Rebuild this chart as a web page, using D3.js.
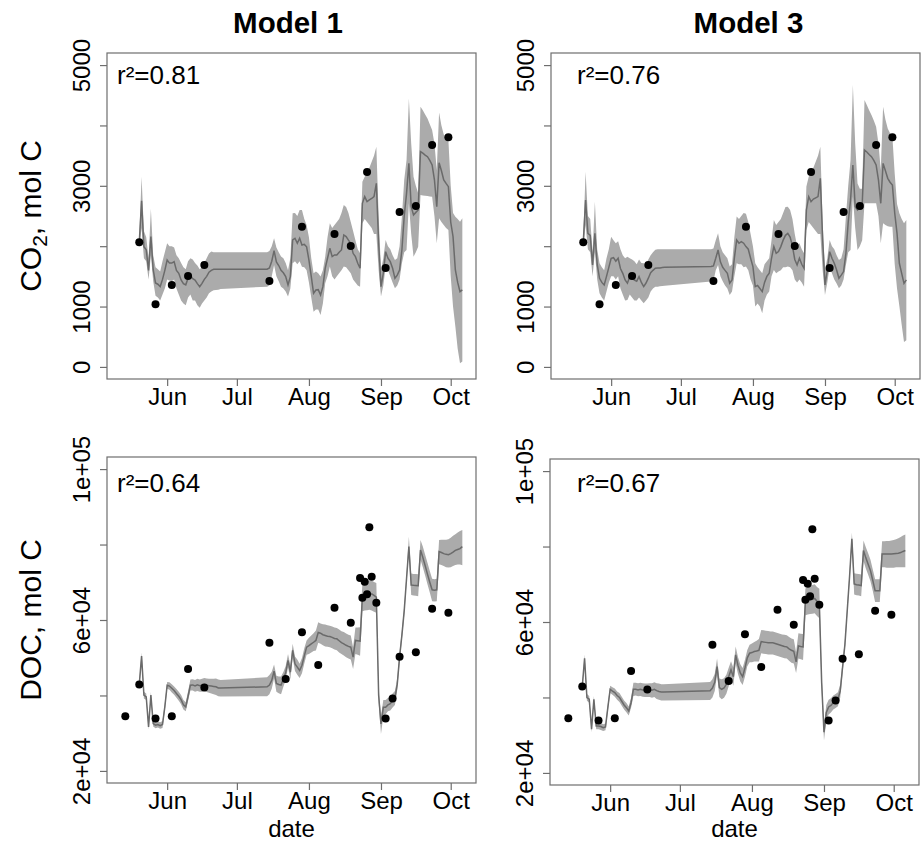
<!DOCTYPE html>
<html>
<head>
<meta charset="utf-8">
<script src="https://cdn.jsdelivr.net/npm/d3@7"></script>
<style>
  body { margin: 0; background: #fff; }
  svg text { font-family: "Liberation Sans", Arial, sans-serif; fill: #000; }
</style>
</head>
<body>
<svg id="chart" width="922" height="843"></svg>
<script>
// ---- data (month-day, year 2015) ----
const modelDates = [
  '05-20','05-21','05-22','05-23','05-24','05-25','05-26','05-27','05-28','05-29','05-30','05-31',
  '06-01','06-02','06-03','06-04','06-05','06-06','06-07','06-08','06-09','06-10','06-11','06-12',
  '06-13','06-14','06-15','06-16','06-17','06-18','06-19','06-20','06-21','06-22','06-23','06-24',
  '07-14','07-15','07-16','07-17','07-18','07-19','07-20','07-21','07-22','07-23','07-24','07-25',
  '07-26','07-27','07-28','07-29','07-30','07-31',
  '08-01','08-02','08-03','08-04','08-05','08-06','08-07','08-08','08-09','08-10','08-11','08-12',
  '08-13','08-14','08-15','08-16','08-17','08-18','08-19','08-20','08-21','08-22','08-23','08-24',
  '08-25','08-26','08-27','08-28','08-29','08-30','08-31',
  '09-01','09-02','09-03','09-04','09-05','09-06','09-07','09-08','09-09','09-10','09-11','09-12',
  '09-13','09-14','09-15','09-16','09-17','09-18','09-19','09-20','09-21','09-22','09-23','09-24',
  '09-25','09-26','09-27','09-28','09-29','09-30',
  '10-01','10-02','10-03','10-04','10-05','10-06'
]

// CO2, model 1
const co2M1Mean = [
  2060, 2750, 1990, 1940, 1600, 2160, 1610, 1390, 1370, 1330, 1450, 1600,
  1770, 1720, 1720, 1745, 1600, 1550, 1440, 1380, 1360, 1470, 1520, 1460, 1440, 1380, 1330, 1385, 1450, 1500, 1570, 1600, 1617, 1617, 1617, 1617,
  1620, 1640, 1750, 1926, 1740, 1680, 1600, 1560, 1496, 1358, 1496, 2103, 2131, 2048, 2131, 2020, 2030, 1990,
  1770, 1500, 1220, 1275, 1280, 1192, 1330, 1634, 1800, 1965, 1827, 1855, 1855, 1900, 1938, 2186, 2158, 2100, 2048, 1882, 1827, 1717, 1634, 2710, 2821, 2738, 2766, 2790, 2821, 3042, 2048,
  1330, 1551, 1909, 1800, 1744, 1634, 1468, 1520, 1606, 1937, 2500, 2875, 3372, 2655, 2517, 2560, 2600, 3566, 3540, 3510, 3483, 3420, 3345, 3100, 2655, 3383, 3250, 3097, 3040, 2986,
  2400, 2158, 1606, 1400, 1247, 1275
]
const co2M1Lo = [
  1980, 2300, 1800, 1750, 1450, 1850, 1420, 1180, 1150, 1100, 1200, 1300,
  1450, 1430, 1420, 1450, 1300, 1200, 1100, 1050, 1020, 1150, 1200, 1100, 1100, 1020, 980, 1050, 1100, 1150, 1220, 1250, 1270, 1275, 1280, 1290,
  1330, 1350, 1500, 1690, 1500, 1420, 1330, 1300, 1250, 1165, 1300, 1717, 1750, 1700, 1750, 1660, 1650, 1600,
  1400, 1150, 916, 950, 950, 861, 1050, 1385, 1500, 1662, 1500, 1450, 1500, 1550, 1600, 1662, 1650, 1600, 1550, 1450, 1400, 1350, 1330, 2379, 2450, 2400, 2350, 2300, 2200, 2200, 1600,
  1165, 1350, 1661, 1600, 1500, 1400, 1303, 1350, 1450, 1717, 1900, 1937, 2710, 2200, 1827, 1900, 1992, 2848, 2840, 2835, 2831, 2825, 2820, 2500, 2048, 2462, 2400, 2350, 2300, 2268,
  1500, 1000, 668, 300, 62, 90
]
const co2M1Hi = [
  2150, 3150, 2250, 2150, 1800, 2620, 1850, 1650, 1620, 1580, 1750, 1900,
  2050, 2000, 2000, 1980, 1850, 1800, 1720, 1650, 1620, 1750, 1800, 1780, 1720, 1680, 1620, 1650, 1720, 1800, 1880, 1910, 1900, 1899, 1899, 1899,
  1900, 1920, 2000, 2130, 1980, 1900, 1830, 1800, 1720, 1600, 1800, 2545, 2550, 2500, 2600, 2600, 2450, 2350,
  2150, 1800, 1551, 1580, 1550, 1496, 1600, 1827, 2150, 2379, 2300, 2350, 2400, 2450, 2550, 2683, 2650, 2550, 2400, 2250, 2100, 1950, 1882, 3069, 3150, 3200, 3300, 3400, 3500, 3649, 2500,
  1606, 1800, 2103, 2000, 1950, 1850, 1772, 1800, 2000, 2488, 3100, 3427, 4448, 3700, 3152, 3000, 2875, 4310, 4250, 4180, 4117, 4020, 3924, 3700, 3262, 4213, 4000, 3850, 3800, 3758,
  3000, 2550, 2489, 2450, 2406, 2462
]

// CO2, model 3
const co2M3Mean = [
  2064, 2766, 2213, 2180, 1689, 2213, 1700, 1468, 1400, 1358, 1500, 1650,
  1800, 1810, 1750, 1800, 1630, 1550, 1440, 1386, 1496, 1470, 1440, 1420, 1496, 1400, 1330, 1390, 1470, 1560, 1600, 1634, 1640, 1640, 1645, 1650,
  1662, 1673, 1800, 1938, 1740, 1650, 1600, 1550, 1386, 1440, 1800, 2103, 2048, 2076, 2050, 1993, 1950, 1800,
  1662, 1330, 1350, 1300, 1248, 1400, 1500, 1551, 1800, 1993, 1882, 1910, 1993, 2100, 2180, 2213, 2150, 2000, 1780, 1689, 1800, 1700, 1634, 2600, 2821, 2738, 2780, 2800, 2821, 3124, 2100,
  1358, 1600, 1909, 1800, 1717, 1606, 1468, 1520, 1579, 1882, 2400, 2765, 3345, 2655, 2600, 2650, 2683, 3593, 3560, 3520, 3483, 3420, 3345, 3100, 2710, 3372, 3250, 3124, 3060, 3014,
  2550, 2213, 1717, 1550, 1385, 1441
]
const co2M3Lo = [
  1980, 2350, 1950, 1900, 1500, 1900, 1450, 1220, 1150, 1100, 1250, 1400,
  1500, 1500, 1450, 1500, 1300, 1200, 1100, 1110, 1200, 1150, 1100, 1100, 1150, 1100, 1054, 1100, 1150, 1250, 1300, 1330, 1330, 1335, 1340, 1345,
  1413, 1420, 1600, 1689, 1500, 1420, 1350, 1300, 1193, 1250, 1500, 1717, 1700, 1700, 1650, 1662, 1600, 1450,
  1350, 1000, 1050, 1000, 890, 1100, 1200, 1250, 1500, 1607, 1550, 1580, 1600, 1650, 1650, 1662, 1650, 1600, 1450, 1400, 1450, 1400, 1330, 2263, 2400, 2350, 2300, 2250, 2200, 2200, 1600,
  1192, 1400, 1661, 1550, 1450, 1380, 1303, 1350, 1450, 1690, 1900, 1937, 2820, 2300, 1937, 2000, 2100, 2710, 2710, 2710, 2710, 2710, 2710, 2500, 2048, 2379, 2350, 2330, 2320, 2324,
  1700, 1300, 1010, 700, 414, 441
]
const co2M3Hi = [
  2150, 3235, 2500, 2450, 1900, 2738, 1950, 1717, 1650, 1600, 1800, 1950,
  2158, 2100, 2050, 2080, 1950, 1850, 1800, 1827, 1800, 1780, 1750, 1700, 1780, 1720, 1717, 1700, 1780, 1850, 1900, 1940, 1949, 1949, 1949, 1949,
  1949, 1960, 2100, 2213, 2000, 1900, 1850, 1800, 1662, 1700, 2150, 2490, 2450, 2500, 2550, 2538, 2400, 2200,
  2000, 1717, 1650, 1600, 1551, 1700, 1750, 1800, 2100, 2434, 2350, 2400, 2450, 2550, 2650, 2655, 2600, 2450, 2200, 2000, 2050, 1950, 1882, 2987, 3150, 3200, 3300, 3400, 3500, 3648, 2400,
  1606, 1800, 2103, 2000, 1950, 1850, 1772, 1800, 1950, 2488, 3000, 3427, 4669, 3700, 3040, 2950, 2950, 4420, 4340, 4250, 4172, 4080, 3980, 3700, 3262, 4310, 4100, 3950, 3870, 3813,
  3200, 2700, 2545, 2450, 2379, 2434
]

// DOC, model 1
const docM1Mean = [
  42930, 50440, 40090, 39650, 31680, 40090, 32565, 32120, 32300, 32000, 32300, 36970,
  42720, 42500, 41900, 41300, 40530, 39800, 38900, 37500, 36970, 39800, 42720, 42800, 42500, 42800, 42600, 42720, 42900, 42700, 42600, 42500, 42400, 42300, 42000, 41960,
  42300, 42745, 44000, 46460, 43200, 42900, 42745, 44430, 46000, 49270, 46170, 51930, 48390, 47500, 46620, 48000, 50500, 52800,
  53200, 53690, 54100, 54580, 56700, 56500, 56100, 55900, 55700, 55630, 55400, 55100, 55010, 54500, 54000, 53690, 53300, 53000, 52800, 50150, 54580, 54500, 54400, 66070, 66300, 66510, 66700, 66950, 66500, 66070, 40000,
  32450, 36870, 36870, 37500, 37800, 38640, 39300, 43000, 50150, 56000, 62500, 71000, 79450, 69270, 69200, 69150, 69070, 78560, 76600, 74400, 72170, 70000, 68000, 67900, 68000, 78120, 77900, 77600, 77400, 77300,
  77600, 78000, 78470, 78700, 78910, 79450
]
const docM1Lo = [
  42000, 49500, 39200, 38800, 31000, 39200, 31800, 31300, 31500, 31200, 31400, 36000,
  41800, 41500, 40800, 40200, 39400, 38600, 37700, 36300, 35800, 38500, 41300, 41300, 41000, 41200, 41000, 41000, 41200, 40900, 40700, 40500, 40300, 40100, 39800, 39700,
  39800, 40300, 41800, 44500, 41000, 40600, 40300, 42300, 44000, 47500, 44300, 50000, 46500, 45500, 44600, 45900, 48500, 50800,
  51000, 51400, 51800, 51900, 54000, 53700, 53300, 53000, 52900, 52800, 52500, 52200, 52000, 51400, 51000, 50600, 50100, 49800, 49500, 47000, 51000, 50800, 50500, 62300, 62500, 62600, 62700, 62500, 62200, 61900, 38000,
  29800, 34500, 35000, 35800, 36000, 36800, 37500, 41500, 48800, 54800, 61300, 69800, 78000, 66600, 66500, 66400, 66300, 76000, 74000, 71800, 69500, 67300, 65000, 64900, 65000, 74800, 74600, 74300, 74000, 73900,
  74000, 74300, 74600, 74700, 74700, 74500
]
const docM1Hi = [
  43800, 51400, 41000, 40500, 32400, 40900, 33300, 33000, 33100, 32900, 33200, 38000,
  43600, 43500, 43000, 42400, 41700, 41000, 40100, 38800, 38200, 41100, 44200, 44300, 44100, 44400, 44200, 44400, 44600, 44500, 44400, 44400, 44400, 44500, 44200, 44100,
  44800, 45400, 46300, 48200, 45200, 45000, 45000, 46200, 47800, 51000, 48000, 53700, 50300, 49500, 48400, 49900, 52500, 54600,
  55300, 55900, 56500, 57200, 59400, 59100, 58900, 58800, 58600, 58500, 58300, 58000, 57900, 57500, 57000, 56800, 56400, 56100, 55900, 52800, 58000, 58000, 58100, 69600, 70000, 70300, 70500, 70500, 70100, 69800, 42000,
  34500, 38800, 38800, 39300, 39700, 40500, 41200, 44500, 51500, 57300, 63700, 72200, 82100, 72300, 72200, 72200, 72100, 81200, 79500, 77300, 75200, 73000, 70900, 70800, 70900, 81200, 81300, 81300, 81300, 81400,
  81800, 82300, 82700, 83200, 83600, 83860
]

// DOC, model 3
const docM3Mean = [
  42860, 50400, 39970, 39530, 31560, 39530, 32450, 32450, 32300, 32000, 32200, 37300,
  42170, 41700, 41300, 40500, 40000, 39000, 38000, 37300, 36420, 38600, 42170, 42200, 42000, 42170, 42000, 41900, 41900, 42000, 41900, 42170, 41800, 41600, 41460, 41460,
  41800, 42500, 44000, 48160, 42600, 42170, 42500, 43500, 45500, 47300, 45500, 51290, 48500, 46500, 45500, 47800, 50500, 51730,
  51900, 52170, 52300, 52500, 54830, 54700, 54600, 54500, 54480, 54480, 54300, 54100, 53900, 53700, 53500, 53410, 52900, 52500, 52260, 49420, 53670, 53500, 53410, 65370, 65600, 65810, 66000, 66250, 65500, 64920, 44000,
  30800, 36000, 37500, 37900, 38640, 39000, 39530, 41740, 48000, 54000, 63000, 72000, 82050, 70080, 69900, 69800, 69640, 78940, 77000, 75300, 73620, 71000, 68300, 68300, 68300, 78050, 78050, 78050, 78050, 78050,
  78100, 78150, 78200, 78400, 78700, 78940
]
const docM3Lo = [
  42000, 49400, 39100, 38600, 30800, 38600, 31600, 31600, 31400, 31100, 31300, 36300,
  41200, 40700, 40200, 39400, 38800, 37800, 36800, 36100, 35200, 37300, 40400, 40500, 40300, 40400, 40200, 40100, 40100, 40100, 39900, 40100, 39600, 39400, 39200, 39200,
  39300, 40000, 41700, 46000, 40100, 39500, 39900, 41000, 43000, 44800, 43100, 49000, 46200, 44200, 43300, 45500, 48300, 49300,
  49300, 49500, 49500, 49500, 51700, 51600, 51500, 51400, 51400, 51400, 51200, 51000, 50800, 50600, 50400, 50300, 49700, 49200, 49000, 46500, 50300, 50100, 49900, 61800, 62000, 62100, 62200, 62300, 61600, 61000, 42000,
  28590, 33800, 35500, 36000, 36800, 37200, 37700, 40000, 46500, 52700, 61800, 70800, 80500, 67300, 67100, 67000, 66800, 76200, 74200, 72500, 70800, 68200, 65300, 65300, 65300, 74500, 74500, 74400, 74400, 74400,
  74400, 74500, 74500, 74500, 74500, 74500
]
const docM3Hi = [
  43700, 51400, 40900, 40400, 32300, 40400, 33300, 33300, 33200, 32900, 33100, 38300,
  43100, 42700, 42400, 41600, 41200, 40200, 39200, 38500, 37600, 39900, 43900, 43900, 43800, 43900, 43800, 43700, 43700, 43800, 43800, 44000, 43800, 43700, 43500, 43500,
  44100, 44800, 46300, 50300, 45000, 44800, 45100, 46000, 47900, 49600, 47900, 53500, 50700, 48800, 47800, 50000, 52600, 54000,
  54300, 54700, 55000, 55500, 57900, 57800, 57700, 57600, 57500, 57500, 57300, 57100, 56900, 56700, 56600, 56500, 56000, 55600, 55400, 52000, 57000, 56900, 56800, 68900, 69200, 69500, 69800, 70000, 69300, 68800, 46000,
  32800, 38000, 39400, 39800, 40500, 40900, 41400, 43500, 49500, 55300, 64300, 73300, 83700, 72900, 72800, 72700, 72600, 81600, 79800, 78200, 76500, 73900, 71300, 71300, 71300, 81400, 81400, 81500, 81500, 81600,
  81700, 81900, 82200, 82500, 82900, 83190
]

// observations
const co2ObsDates = ['05-20','05-27','06-03','06-10','06-17','07-15','07-29','08-12','08-19','08-26','09-03','09-09','09-16','09-23','09-30']
const co2Obs = [2064, 1038, 1358, 1507, 1689, 1424, 2323, 2202, 2003, 3228, 1639, 2566, 2666, 3675, 3803]
const docObsDates = ['05-14','05-20','05-27','06-03','06-10','06-17','07-15','07-22','07-29','08-05','08-12','08-19',
  '08-23','08-24','08-25','08-26','08-27','08-28','08-30','09-03','09-06','09-09','09-16','09-23','09-30']
const docObs = [34517, 42930, 33906, 34517, 46991, 42134, 53971, 44337, 56731, 48053, 63261, 59279,
  71143, 65914, 70161, 66815, 84600, 71488, 64587, 33906, 39215, 50256, 51423, 62995, 61933]

// axes
const dateLim = ['05-12', '10-06']
const monthTicks = ['06-01', '07-01', '08-01', '09-01', '10-01']
const monthLabels = ['Jun', 'Jul', 'Aug', 'Sep', 'Oct']
const co2Lim = [0, 5000]
const co2Ticks = [0, 1000, 2000, 3000, 4000, 5000]
const co2TickText = ['0', '1000', '', '3000', '', '5000']
const docLim = [20000, 100000]
const docTicks = [20000, 40000, 60000, 80000, 100000]
const docTickText = ['2e+04', '', '6e+04', '', '1e+05']
const r2Text = ['r\u00b2=0.81', 'r\u00b2=0.76', 'r\u00b2=0.64', 'r\u00b2=0.67']

// ---- drawing ----
const parseDay = d3.utcParse('%Y-%m-%d')
const toDate = s => parseDay('2015-' + s)

const svg = d3.select('#chart')
const W = 369
const H = 326
const BAND = '#ababab'
const LINE = '#6a6a6a'
const FRAME = '#6e6e6e'

// R-style 4% padding around the limits
function pad(lo, hi) {
  const r = hi - lo
  return [lo - r * 0.04, hi + r * 0.04]
}

const dLim = dateLim.map(toDate)
const dPad = (dLim[1] - dLim[0]) * 0.04
const xDomain = [new Date(+dLim[0] - dPad), new Date(+dLim[1] + dPad)]

const panels = [
  { left: 107, top: 53, mean: co2M1Mean, lo: co2M1Lo, hi: co2M1Hi, obsDates: co2ObsDates, obs: co2Obs,
    lim: co2Lim, ticks: co2Ticks, tickText: co2TickText, r2: r2Text[0], r2x: 117, r2y: 84 },
  { left: 551, top: 53, mean: co2M3Mean, lo: co2M3Lo, hi: co2M3Hi, obsDates: co2ObsDates, obs: co2Obs,
    lim: co2Lim, ticks: co2Ticks, tickText: co2TickText, r2: r2Text[1], r2x: 577, r2y: 84 },
  { left: 107, top: 457, mean: docM1Mean, lo: docM1Lo, hi: docM1Hi, obsDates: docObsDates, obs: docObs,
    lim: docLim, ticks: docTicks, tickText: docTickText, r2: r2Text[2], r2x: 117, r2y: 491.5, xlab: true },
  { left: 550, top: 459, mean: docM3Mean, lo: docM3Lo, hi: docM3Hi, obsDates: docObsDates, obs: docObs,
    lim: docLim, ticks: docTicks, tickText: docTickText, r2: r2Text[3], r2x: 577, r2y: 491.5, xlab: true }
]

panels.forEach(p => {
  const g = svg.append('g').attr('transform', `translate(${p.left}, ${p.top})`)

  const x = d3.scaleUtc().domain(xDomain).range([0, W])
  const y = d3.scaleLinear().domain(pad(p.lim[0], p.lim[1])).range([H, 0])

  const rows = modelDates.map((s, i) => ({ date: toDate(s), mean: p.mean[i], lo: p.lo[i], hi: p.hi[i] }))

  // uncertainty band
  g.append('path')
    .datum(rows)
    .attr('d', d3.area().x(d => x(d.date)).y0(d => y(d.lo)).y1(d => y(d.hi)))
    .attr('fill', BAND)

  // model line
  g.append('path')
    .datum(rows)
    .attr('d', d3.line().x(d => x(d.date)).y(d => y(d.mean)))
    .attr('fill', 'none')
    .attr('stroke', LINE)
    .attr('stroke-width', 1.5)

  // observations
  g.selectAll('circle')
    .data(p.obsDates.map((s, i) => ({ date: toDate(s), v: p.obs[i] })))
    .enter()
    .append('circle')
      .attr('cx', d => x(d.date))
      .attr('cy', d => y(d.v))
      .attr('r', 4)
      .attr('fill', '#000')

  // box
  g.append('rect')
    .attr('width', W)
    .attr('height', H)
    .attr('fill', 'none')
    .attr('stroke', FRAME)
    .attr('stroke-width', 1.2)

  // y axis
  const yAxis = g.append('g')
    .call(d3.axisLeft(y).tickValues(p.ticks).tickSize(7).tickFormat((d, i) => p.tickText[i]))
  yAxis.select('.domain').remove()
  yAxis.selectAll('line').attr('stroke', FRAME).attr('stroke-width', 1.2)
  yAxis.selectAll('text')
    .attr('transform', 'rotate(-90)')
    .attr('x', 0)
    .attr('y', -17)
    .attr('dy', 0)
    .style('text-anchor', 'middle')
    .style('font-size', '24px')
    .style('font-family', '"Liberation Sans", Arial, sans-serif')
    .attr('fill', '#000')

  // x axis
  const xAxis = g.append('g')
    .attr('transform', `translate(0, ${H})`)
    .call(d3.axisBottom(x).tickValues(monthTicks.map(toDate)).tickSize(7).tickFormat((d, i) => monthLabels[i]))
  xAxis.select('.domain').remove()
  xAxis.selectAll('line').attr('stroke', FRAME).attr('stroke-width', 1.2)
  xAxis.selectAll('text')
    .attr('y', 26)
    .attr('dy', 0)
    .style('font-size', '24px')
    .style('font-family', '"Liberation Sans", Arial, sans-serif')
    .attr('fill', '#000')

  // r squared
  svg.append('text')
    .attr('x', p.r2x)
    .attr('y', p.r2y)
    .style('font-size', '26px')
    .text(p.r2)

  if (p.xlab) {
    svg.append('text')
      .attr('x', p.left + W / 2)
      .attr('y', 837)
      .attr('text-anchor', 'middle')
      .style('font-size', '24px')
      .text('date')
  }
})

// column titles
svg.append('text')
  .attr('x', 288).attr('y', 33)
  .attr('text-anchor', 'middle')
  .style('font-size', '29.5px').style('font-weight', 'bold')
  .text('Model 1')
svg.append('text')
  .attr('x', 748.5).attr('y', 33)
  .attr('text-anchor', 'middle')
  .style('font-size', '29.5px').style('font-weight', 'bold')
  .text('Model 3')

// row titles
const co2Title = svg.append('text')
  .attr('transform', 'translate(41, 216) rotate(-90)')
  .attr('text-anchor', 'middle')
  .style('font-size', '30px')
co2Title.append('tspan').text('CO')
co2Title.append('tspan').attr('dy', 6).style('font-size', '21px').text('2')
co2Title.append('tspan').attr('dy', -6).text(', mol C')

svg.append('text')
  .attr('transform', 'translate(41, 620) rotate(-90)')
  .attr('text-anchor', 'middle')
  .style('font-size', '30px')
  .text('DOC, mol C')
</script>
</body>
</html>
